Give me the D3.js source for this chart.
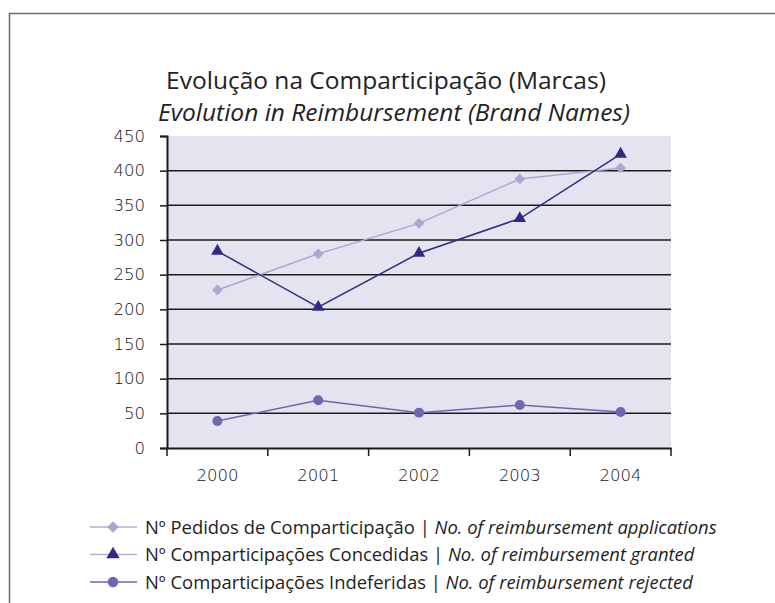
<!DOCTYPE html>
<html>
<head>
<meta charset="utf-8">
<script src="https://cdn.jsdelivr.net/npm/d3@7"></script>
<style>
  body { margin: 0; background: #fff; }
  svg { display: block; }
</style>
</head>
<body>
<div id="chart"></div>
<script>
// data
const years = ["2000", "2001", "2002", "2003", "2004"];
const pedidos = [228, 280, 324, 388, 404];
const concedidas = [284, 203, 281, 331, 424];
const indeferidas = [39, 69, 51, 62, 52];
const yTicks = [0, 50, 100, 150, 200, 250, 300, 350, 400, 450];
const seriesNames = [
    ["Nº Pedidos de Comparticipação", "No. of reimbursement applications"],
    ["Nº Comparticipações Concedidas", "No. of reimbursement granted"],
    ["Nº Comparticipações Indeferidas", "No. of reimbursement rejected"]
];

const width = 775, height = 603;
const plot = { left: 167, right: 671, top: 136, bottom: 448 };
const font = "'Open Sans', sans-serif";
const tickFont = "'DejaVu Sans', sans-serif";

const svg = d3.select("#chart").append("svg")
    .attr("width", width)
    .attr("height", height);

// frame (top and left edges only are visible)
svg.append("path")
    .attr("d", `M9.5,${height} V13.5 H${width}`)
    .attr("fill", "none")
    .attr("stroke", "#6b6b6b")
    .attr("stroke-width", 1.5);

// title
svg.append("text")
    .attr("x", 386).attr("y", 89)
    .attr("text-anchor", "middle")
    .style("font-family", font).style("font-size", "24.5px").style("fill", "#222")
    .text("Evolução na Comparticipação (Marcas)");
svg.append("text")
    .attr("x", 394).attr("y", 121)
    .attr("text-anchor", "middle")
    .style("font-family", font).style("font-size", "24.5px").style("font-style", "italic").style("fill", "#222")
    .text("Evolution in Reimbursement (Brand Names)");

const x = d3.scaleBand().domain(years).range([plot.left, plot.right]);
const y = d3.scaleLinear().domain([0, 450]).range([plot.bottom, plot.top]);

svg.append("rect")
    .attr("x", plot.left).attr("y", plot.top)
    .attr("width", plot.right - plot.left).attr("height", plot.bottom - plot.top)
    .attr("fill", "#e4e4f0");

// gridlines
svg.append("g")
    .selectAll("line")
    .data(yTicks.filter(d => d > 0 && d < 450))
    .join("line")
    .attr("x1", plot.left).attr("x2", plot.right)
    .attr("y1", d => y(d)).attr("y2", d => y(d))
    .attr("stroke", "#1a1a1a").attr("stroke-width", 1.5);

// y axis
const yAxis = svg.append("g")
    .attr("transform", `translate(${plot.left},0)`)
    .call(d3.axisLeft(y).tickValues(yTicks).tickSize(7).tickPadding(15));
yAxis.select(".domain").attr("stroke", "#1a1a1a").attr("stroke-width", 2);
yAxis.selectAll(".tick line").attr("stroke", "#1a1a1a").attr("stroke-width", 1.5);
yAxis.selectAll(".tick text")
    .style("font-family", tickFont).style("font-size", "16.5px")
    .style("font-weight", 200).style("fill", "#111");

// x axis, ticks at the band edges
const xAxis = svg.append("g")
    .attr("transform", `translate(0,${plot.bottom})`)
    .call(d3.axisBottom(x).tickSize(0).tickPadding(21));
xAxis.select(".domain").attr("stroke", "#1a1a1a").attr("stroke-width", 2);
xAxis.selectAll(".tick text")
    .style("font-family", tickFont).style("font-size", "16.5px")
    .style("font-weight", 200).style("fill", "#111");
xAxis.selectAll("line.edge")
    .data(years.map(d => x(d)).concat([x(years[years.length - 1]) + x.bandwidth()]))
    .join("line")
    .attr("class", "edge")
    .attr("x1", d => d).attr("x2", d => d)
    .attr("y1", 0).attr("y2", 8)
    .attr("stroke", "#1a1a1a").attr("stroke-width", 1.5);

const cx = d => x(d) + x.bandwidth() / 2;
const line = d3.line().x((d, i) => cx(years[i])).y(d => y(d));

// diamond drawn as a square turned 45 degrees
const series = [
    { values: pedidos, color: "#aba7d1", legendLine: "#b3afd6", shape: d3.symbolSquare, rot: 45, size: 58 },
    { values: concedidas, color: "#2e2a86", legendLine: "#b3afd6", shape: d3.symbolTriangle, rot: 0, size: 68 },
    { values: indeferidas, color: "#6e66b1", legendLine: "#6e66b1", shape: d3.symbolCircle, rot: 0, size: 78 }
];

series.forEach(s => {
    svg.append("path")
        .datum(s.values)
        .attr("d", line)
        .attr("fill", "none")
        .attr("stroke", s.color)
        .attr("stroke-width", 1.5);
    svg.append("g")
        .selectAll("path")
        .data(s.values)
        .join("path")
        .attr("transform", (d, i) => `translate(${cx(years[i])},${y(d)}) rotate(${s.rot})`)
        .attr("d", d3.symbol().type(s.shape).size(s.size))
        .attr("fill", s.color);
});

// legend
const legend = svg.append("g");
const rows = legend.selectAll("g")
    .data(series)
    .join("g")
    .attr("transform", (d, i) => `translate(0,${527 + i * 27.5})`);
rows.append("line")
    .attr("x1", 90).attr("x2", 137)
    .attr("stroke", d => d.legendLine).attr("stroke-width", 1.5);
rows.append("path")
    .attr("transform", d => `translate(113,0) rotate(${d.rot})`)
    .attr("d", d => d3.symbol().type(d.shape).size(d.size + 10)())
    .attr("fill", d => d.color);
const label = rows.append("text")
    .attr("x", 145).attr("y", 6.5)
    .style("font-family", font).style("font-size", "18.4px").style("fill", "#222");
label.append("tspan").text((d, i) => seriesNames[i][0] + " | ");
label.append("tspan").style("font-style", "italic").text((d, i) => seriesNames[i][1]);
</script>
</body>
</html>
